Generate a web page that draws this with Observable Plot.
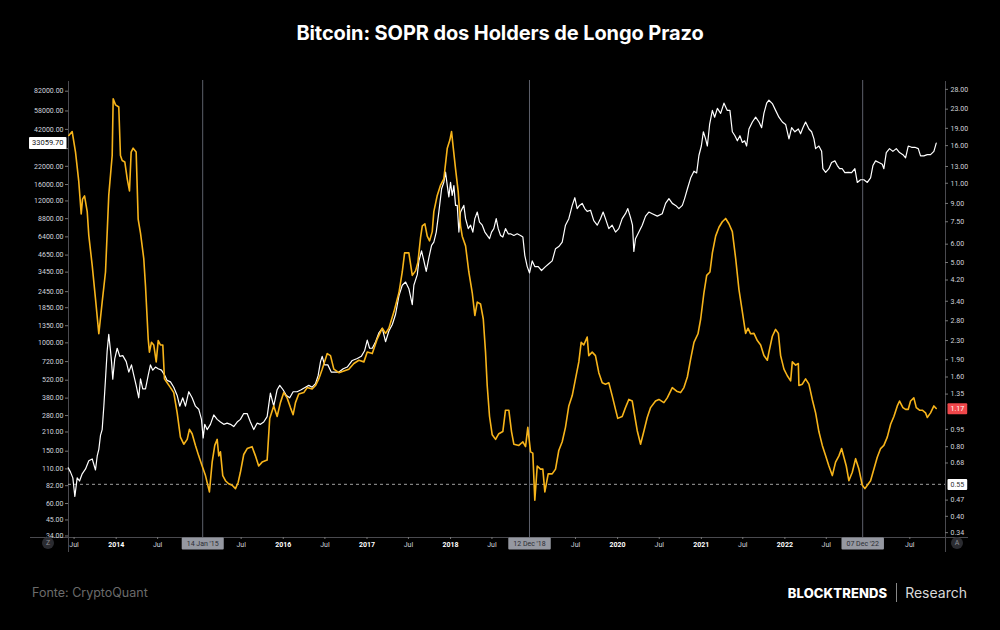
<!DOCTYPE html>
<html>
<head>
<meta charset="utf-8">
<script src="https://cdn.jsdelivr.net/npm/d3@7"></script>
<script src="https://cdn.jsdelivr.net/npm/@observablehq/plot@0.6"></script>
<style>
  html, body { margin: 0; padding: 0; background: #000; }
  #page { position: relative; width: 1000px; height: 630px; background: #000; overflow: hidden; font-family: Inter, "Noto Sans", sans-serif; }
  #title { position: absolute; top: 21px; left: 0; width: 1000px; text-align: center; color: #fff; font-weight: 700; font-size: 20px; letter-spacing: -0.1px; }
  #chart { position: absolute; left: 0; top: 66px; }
  #source { position: absolute; left: 32px; top: 585px; color: #6b6b6b; font-size: 12.5px; }
  #brand { position: absolute; right: 33px; top: 583px; color: #fff; display: flex; align-items: center; }
  #brand b { font-weight: 800; font-size: 13px; letter-spacing: 0.1px; }
  #brand .sep { display: inline-block; width: 1px; height: 19px; background: #888; margin: 0 8px 0 9px; }
  #brand span.r { font-size: 14px; color: #d8d8d8; font-weight: 400; }
  .pill { position: absolute; width: 12px; height: 12px; border-radius: 6px; background: #2a2b30; color: #8a8c93; font: 7px Roboto, sans-serif; text-align: center; line-height: 12px; }
</style>
</head>
<body>
<div id="page">
  <div id="title">Bitcoin: SOPR dos Holders de Longo Prazo</div>
  <div id="chart"></div>
  <div class="pill" style="left:42px; top:537px;">Z</div>
  <div class="pill" style="left:951px; top:537px;">A</div>
  <div id="source">Fonte: CryptoQuant</div>
  <div id="brand"><b>BLOCKTRENDS</b><span class="sep"></span><span class="r">Research</span></div>
</div>
<script>
// Long-term holder SOPR (right scale) – [decimal year, ratio]
const soprPoints = [
  [2013.433,17.7],[2013.473,18.4],[2013.513,15.0],[2013.552,11.2],[2013.581,8.1],[2013.597,9.4],[2013.621,9.7],[2013.653,8.3],
  [2013.672,6.55],[2013.713,4.85],[2013.752,3.49],[2013.792,2.46],[2013.832,3.37],[2013.872,4.55],[2013.911,9.75],[2013.952,14.5],
  [2013.964,25.5],[2013.992,24],[2014.031,23.5],[2014.051,14.5],[2014.072,13.8],[2014.103,13.6],[2014.132,11.5],[2014.159,10.2],
  [2014.179,15.0],[2014.203,15.6],[2014.239,15.0],[2014.263,7.7],[2014.291,6.7],[2014.330,5.2],[2014.351,3.95],[2014.383,2.34],
  [2014.398,2.05],[2014.422,2.26],[2014.450,2.2],[2014.479,1.86],[2014.503,2.3],[2014.530,2.2],[2014.558,2.2],[2014.578,1.57],
  [2014.610,1.51],[2014.650,1.44],[2014.689,1.37],[2014.730,1.12],[2014.769,0.88],[2014.809,0.82],[2014.850,0.86],[2014.877,0.95],
  [2014.909,0.91],[2014.949,0.81],[2014.988,0.73],[2015.029,0.66],[2015.069,0.60],[2015.116,0.51],[2015.149,0.686],[2015.180,0.81],
  [2015.209,0.86],[2015.228,0.73],[2015.248,0.76],[2015.276,0.60],[2015.308,0.57],[2015.347,0.553],[2015.388,0.545],[2015.428,0.527],
  [2015.460,0.56],[2015.487,0.62],[2015.527,0.74],[2015.568,0.785],[2015.627,0.80],[2015.667,0.73],[2015.706,0.66],[2015.747,0.686],
  [2015.807,0.70],[2015.838,1.06],[2015.886,1.2],[2015.927,1.08],[2015.966,1.24],[2016.006,1.37],[2016.046,1.3],[2016.086,1.18],
  [2016.118,1.1],[2016.146,1.24],[2016.185,1.35],[2016.245,1.37],[2016.286,1.44],[2016.345,1.42],[2016.385,1.47],[2016.424,1.57],
  [2016.465,1.73],[2016.525,2.02],[2016.564,1.98],[2016.604,1.73],[2016.664,1.67],[2016.723,1.70],[2016.783,1.73],[2016.843,1.83],
  [2016.903,1.89],[2016.963,1.86],[2017.003,2.05],[2017.063,2.02],[2017.123,2.34],[2017.183,2.6],[2017.222,2.47],[2017.262,2.6],
  [2017.322,3.06],[2017.382,3.7],[2017.422,4.55],[2017.450,5.5],[2017.501,5.5],[2017.542,4.4],[2017.581,4.6],[2017.609,5.0],
  [2017.641,6.4],[2017.662,7.2],[2017.693,7.35],[2017.721,6.5],[2017.749,6.2],[2017.781,6.8],[2017.800,8.3],[2017.841,9.75],
  [2017.881,10.8],[2017.920,11.5],[2017.961,15.6],[2017.992,16.9],[2018.012,18.4],[2018.033,15.6],[2018.060,12.7],[2018.092,10.1],
  [2018.120,7.2],[2018.140,6.5],[2018.180,5.9],[2018.219,4.55],[2018.260,3.7],[2018.291,2.95],[2018.320,3.37],[2018.359,3.31],
  [2018.392,2.85],[2018.419,2.05],[2018.439,1.47],[2018.467,1.08],[2018.499,0.9],[2018.539,0.86],[2018.578,0.91],[2018.626,0.93],
  [2018.658,1.15],[2018.698,1.15],[2018.730,0.93],[2018.758,0.82],[2018.818,0.81],[2018.866,0.84],[2018.898,0.80],[2018.925,0.97],
  [2018.958,0.76],[2018.985,0.75],[2019.009,0.47],[2019.038,0.66],[2019.077,0.64],[2019.105,0.64],[2019.129,0.51],[2019.169,0.61],
  [2019.217,0.61],[2019.257,0.64],[2019.296,0.77],[2019.337,0.84],[2019.376,0.97],[2019.416,1.2],[2019.457,1.33],[2019.496,1.57],
  [2019.536,1.86],[2019.564,2.26],[2019.595,2.2],[2019.636,2.38],[2019.655,1.98],[2019.696,2.05],[2019.735,1.98],[2019.775,1.67],
  [2019.816,1.51],[2019.855,1.49],[2019.895,1.51],[2019.935,1.33],[2019.975,1.16],[2020.002,1.06],[2020.055,1.08],[2020.094,1.18],
  [2020.134,1.28],[2020.175,1.26],[2020.206,1.08],[2020.234,0.94],[2020.274,0.82],[2020.313,0.93],[2020.354,1.07],[2020.394,1.18],
  [2020.453,1.26],[2020.493,1.28],[2020.553,1.24],[2020.593,1.3],[2020.653,1.44],[2020.705,1.39],[2020.752,1.37],[2020.792,1.44],
  [2020.833,1.6],[2020.872,1.91],[2020.912,2.26],[2020.960,2.46],[2020.992,2.85],[2021.031,3.7],[2021.064,4.4],[2021.103,4.55],
  [2021.132,5.5],[2021.171,6.5],[2021.211,7.1],[2021.251,7.5],[2021.291,7.75],[2021.330,7.35],[2021.371,6.8],[2021.411,5.2],
  [2021.450,3.83],[2021.491,3.06],[2021.530,2.47],[2021.558,2.6],[2021.590,2.46],[2021.630,2.47],[2021.670,2.3],[2021.710,2.2],
  [2021.749,1.98],[2021.790,1.89],[2021.809,2.05],[2021.850,2.4],[2021.889,2.57],[2021.922,2.47],[2021.949,1.98],[2021.989,1.73],
  [2022.029,1.62],[2022.069,1.54],[2022.089,1.86],[2022.129,1.8],[2022.161,1.83],[2022.168,1.47],[2022.209,1.49],[2022.248,1.57],
  [2022.288,1.49],[2022.328,1.28],[2022.368,1.12],[2022.407,0.93],[2022.448,0.81],[2022.488,0.73],[2022.527,0.66],[2022.568,0.60],
  [2022.607,0.686],[2022.647,0.73],[2022.679,0.785],[2022.707,0.72],[2022.735,0.66],[2022.766,0.57],[2022.807,0.62],[2022.847,0.71],
  [2022.886,0.64],[2022.927,0.545],[2022.958,0.527],[2022.987,0.545],[2023.026,0.57],[2023.066,0.64],[2023.106,0.72],[2023.146,0.785],
  [2023.185,0.81],[2023.226,0.88],[2023.266,1.0],[2023.305,1.08],[2023.346,1.2],[2023.373,1.26],[2023.413,1.18],[2023.445,1.16],
  [2023.477,1.16],[2023.505,1.26],[2023.544,1.3],[2023.573,1.18],[2023.612,1.15],[2023.645,1.15],[2023.684,1.12],[2023.705,1.07],
  [2023.744,1.12],[2023.784,1.2],[2023.812,1.17]
];

// Bitcoin price in USD (left scale) – [decimal year, price]
const pricePoints = [
  [2013.426,112],[2013.453,104],[2013.481,94],[2013.505,68],[2013.533,94],[2013.561,89],[2013.593,101],[2013.633,110],
  [2013.672,127],[2013.713,131],[2013.752,108],[2013.773,138],[2013.792,155],[2013.812,198],[2013.832,219],[2013.852,330],
  [2013.872,532],[2013.892,870],[2013.911,1160],[2013.932,870],[2013.944,720],[2013.959,530],[2013.983,760],[2014.012,910],
  [2014.043,790],[2014.079,800],[2014.120,720],[2014.151,600],[2014.183,680],[2014.211,565],[2014.239,475],[2014.270,382],
  [2014.291,532],[2014.318,447],[2014.351,447],[2014.383,565],[2014.410,680],[2014.438,620],[2014.470,655],[2014.503,635],
  [2014.542,620],[2014.582,565],[2014.610,518],[2014.650,505],[2014.689,460],[2014.730,398],[2014.761,330],[2014.797,382],
  [2014.829,330],[2014.869,425],[2014.909,382],[2014.949,330],[2014.988,313],[2015.021,262],[2015.041,189],[2015.060,240],
  [2015.089,219],[2015.128,240],[2015.168,283],[2015.209,262],[2015.248,250],[2015.288,240],[2015.328,245],[2015.368,240],
  [2015.407,231],[2015.448,250],[2015.487,262],[2015.527,290],[2015.568,290],[2015.607,250],[2015.647,219],[2015.687,245],
  [2015.727,240],[2015.766,250],[2015.807,275],[2015.846,415],[2015.886,330],[2015.927,440],[2015.958,475],[2015.998,440],
  [2016.038,398],[2016.077,382],[2016.118,425],[2016.166,425],[2016.214,440],[2016.265,460],[2016.305,475],[2016.345,460],
  [2016.385,490],[2016.417,565],[2016.445,720],[2016.465,790],[2016.493,680],[2016.532,680],[2016.573,600],[2016.612,600],
  [2016.664,600],[2016.716,635],[2016.764,655],[2016.824,735],[2016.884,760],[2016.932,790],[2016.971,870],[2017.003,1050],
  [2017.031,910],[2017.063,910],[2017.103,1020],[2017.142,1190],[2017.183,1290],[2017.222,1020],[2017.262,1230],[2017.303,1380],
  [2017.342,1650],[2017.382,2280],[2017.422,2740],[2017.462,2900],[2017.501,2580],[2017.542,1950],[2017.561,2740],[2017.602,3300],
  [2017.621,4200],[2017.653,5000],[2017.681,4200],[2017.709,3500],[2017.741,4450],[2017.773,5520],[2017.800,5840],[2017.829,6960],
  [2017.860,9880],[2017.893,14840],[2017.920,16660],[2017.940,19900],[2017.961,15700],[2017.980,12900],[2018.000,16600],[2018.020,13200],
  [2018.040,15700],[2018.060,11100],[2018.080,11100],[2018.100,6960],[2018.120,9880],[2018.140,10500],[2018.159,11100],[2018.180,8800],
  [2018.212,7390],[2018.240,7850],[2018.267,6960],[2018.291,8800],[2018.320,9880],[2018.347,8280],[2018.380,7850],[2018.411,6960],
  [2018.439,6560],[2018.467,6200],[2018.491,6960],[2018.518,7390],[2018.547,8800],[2018.571,7390],[2018.599,6560],[2018.626,6380],
  [2018.658,7390],[2018.691,6750],[2018.718,6750],[2018.758,6560],[2018.798,6750],[2018.838,6560],[2018.866,6380],[2018.889,4630],
  [2018.918,3800],[2018.946,3400],[2018.978,4200],[2019.009,3800],[2019.050,3800],[2019.089,3550],[2019.137,3800],[2019.177,4000],
  [2019.217,4200],[2019.257,5200],[2019.296,5400],[2019.337,5840],[2019.376,7850],[2019.416,8800],[2019.457,11100],[2019.488,12700],
  [2019.516,10500],[2019.544,11100],[2019.576,11500],[2019.607,10500],[2019.636,10000],[2019.676,10200],[2019.715,8500],[2019.756,7850],
  [2019.795,8800],[2019.827,9880],[2019.855,8800],[2019.895,7390],[2019.935,7850],[2019.975,6960],[2020.014,7390],[2020.055,8800],
  [2020.094,9600],[2020.122,10500],[2020.154,9000],[2020.178,7850],[2020.194,4950],[2020.214,6200],[2020.254,6960],[2020.294,7850],
  [2020.334,9200],[2020.373,9880],[2020.414,9600],[2020.474,9200],[2020.533,9600],[2020.573,11500],[2020.613,12500],[2020.653,11500],
  [2020.693,11100],[2020.732,10500],[2020.773,11100],[2020.800,12500],[2020.833,14800],[2020.872,17900],[2020.912,20200],[2020.944,19600],
  [2020.971,26600],[2021.000,31400],[2021.024,40300],[2021.051,35600],[2021.072,31400],[2021.099,45800],[2021.132,58600],[2021.159,52000],
  [2021.192,60700],[2021.231,55600],[2021.271,66500],[2021.311,58600],[2021.342,58600],[2021.371,40300],[2021.402,37600],[2021.431,34400],
  [2021.462,37600],[2021.491,33400],[2021.518,34400],[2021.542,31400],[2021.570,42300],[2021.611,47800],[2021.650,52000],[2021.690,47800],
  [2021.722,43300],[2021.749,55600],[2021.782,66500],[2021.809,70000],[2021.850,66000],[2021.889,58600],[2021.929,52000],[2021.970,47800],
  [2022.009,45800],[2022.049,35600],[2022.081,43300],[2022.120,40300],[2022.161,42300],[2022.188,38900],[2022.216,43300],[2022.248,47800],
  [2022.288,42300],[2022.320,40300],[2022.348,35600],[2022.368,30000],[2022.407,31400],[2022.440,28600],[2022.455,21100],[2022.488,19800],
  [2022.527,21100],[2022.559,23500],[2022.599,24200],[2022.628,22300],[2022.655,21100],[2022.687,21100],[2022.718,19700],[2022.759,19800],
  [2022.799,19700],[2022.838,21100],[2022.867,16600],[2022.906,17400],[2022.946,17400],[2022.987,16600],[2023.026,18000],[2023.054,22300],
  [2023.086,24200],[2023.126,23500],[2023.166,22800],[2023.185,21100],[2023.214,28000],[2023.253,30000],[2023.293,28600],[2023.334,30000],
  [2023.373,28000],[2023.413,27000],[2023.445,25500],[2023.477,31400],[2023.517,30700],[2023.556,30700],[2023.597,30000],[2023.624,26400],
  [2023.664,26400],[2023.705,27000],[2023.744,27000],[2023.784,28600],[2023.812,33059.70]
];

// Axis tick values
const priceTicks = [34,45,60,82,110,150,210,280,380,520,720,1000,1350,1850,2450,3450,4650,6400,8800,12000,16000,22000,30000,42000,58000,82000];
const soprTicks = [0.34,0.40,0.47,0.68,0.80,0.95,1.35,1.60,1.90,2.30,2.80,3.40,4.20,5.00,6.00,7.50,9.00,11.00,13.00,16.00,19.00,23.00,28.00];
const yearTicks = ["2014-01-01","2016-01-01","2017-01-01","2018-01-01","2020-01-01","2021-01-01","2022-01-01"];
const julyTicks = ["2013-07-01","2014-07-01","2015-07-01","2016-07-01","2017-07-01","2018-07-01","2019-07-01","2020-07-01","2021-07-01","2022-07-01","2023-07-01"];

// Marked cycle bottoms
const markerDates = ["2015-01-14","2018-12-12","2022-12-07"];
const markerLabels = ["14 Jan '15","12 Dec '18","07 Dec '22"];

// SOPR reference level and latest readings
const soprLevel = 0.55;
const lastSopr = 1.17;
const lastPrice = 33059.70;

// Visible ranges of the two log scales (they share the same vertical extent)
const priceDomain = [33.1, 90600];
const soprDomain = [0.324, 29.1];
const timeDomain = [2013.429, 2023.923];

function yearToDate(y) {
  const Y = Math.floor(y);
  const a = Date.UTC(Y, 0, 1), b = Date.UTC(Y + 1, 0, 1);
  return new Date(a + (y - Y) * (b - a));
}
const lp0 = Math.log10(priceDomain[0]), lp1 = Math.log10(priceDomain[1]);
const ls0 = Math.log10(soprDomain[0]), ls1 = Math.log10(soprDomain[1]);
// map a SOPR ratio onto the price axis so both series share one y scale
const soprToY = s => Math.pow(10, lp0 + (Math.log10(s) - ls0) * (lp1 - lp0) / (ls1 - ls0));

const price = pricePoints.map(([t, v]) => ({date: yearToDate(t), value: v}));
const sopr = soprPoints.map(([t, v]) => ({date: yearToDate(t), value: v, y: soprToY(v)}));
const markers = markerDates.map((d, i) => ({date: new Date(d + "T00:00:00Z"), label: markerLabels[i]}));
const xStart = yearToDate(timeDomain[0]);
const xEnd = yearToDate(timeDomain[1]);

const gridColor = "#4a4a4f";
const tickColor = "#777";
const textColor = "#d1d4dc";
// a tick label sitting under the price tag is not drawn
const clearOfTag = d => Math.abs(Math.log10(d / lastPrice)) > 0.06;

const chart = Plot.plot({
  width: 1000,
  height: 504,
  marginLeft: 68,
  marginRight: 55,
  marginTop: 19,
  marginBottom: 33,
  style: {background: "transparent", color: textColor, fontFamily: "Roboto, 'Liberation Sans', sans-serif", fontSize: "7px"},
  x: {type: "utc", domain: [xStart, xEnd]},
  y: {type: "log", domain: priceDomain, axis: null},
  marks: [
    // frame lines
    Plot.ruleY([priceDomain[0]], {stroke: gridColor, strokeWidth: 1, insetLeft: -38, insetRight: -23}),
    Plot.ruleX([xStart, xEnd], {stroke: gridColor, strokeWidth: 1, insetBottom: -15, insetTop: -4}),
    // cycle-bottom markers
    Plot.ruleX(markers, {x: "date", stroke: "#5d606b", strokeWidth: 1, insetTop: -5}),
    // SOPR reference level
    Plot.ruleY([soprToY(soprLevel)], {stroke: "#c8c8c8", strokeWidth: 0.8, strokeDasharray: "3,3"}),
    // series
    Plot.line(price, {x: "date", y: "value", stroke: "#ffffff", strokeWidth: 1.2, curve: "linear"}),
    Plot.line(sopr, {x: "date", y: "y", stroke: "#f7b41a", strokeWidth: 1.6, curve: "linear"}),
    // left (price) axis
    Plot.ruleY(priceTicks, {y: d => d, x1: xStart, x2: xStart, insetLeft: -3, stroke: tickColor}),
    Plot.text(priceTicks, {filter: clearOfTag, y: d => d, text: d => d.toFixed(2), frameAnchor: "left", textAnchor: "end", dx: -5, fill: textColor, fontSize: 7}),
    // right (SOPR) axis
    Plot.ruleY(soprTicks, {y: soprToY, x1: xEnd, x2: xEnd, insetRight: -3, stroke: tickColor}),
    Plot.text(soprTicks, {y: soprToY, text: d => d.toFixed(2), frameAnchor: "right", textAnchor: "start", dx: 5, fill: textColor, fontSize: 7}),
    // time axis
    Plot.axisX({ticks: yearTicks.map(d => new Date(d + "T00:00:00Z")), tickFormat: d3.utcFormat("%Y"), tickSize: 2, tickPadding: 3, stroke: tickColor, fill: "#ffffff", fontWeight: "bold", fontSize: 7, label: null}),
    Plot.axisX({ticks: julyTicks.map(d => new Date(d + "T00:00:00Z")), tickFormat: () => "Jul", tickSize: 2, tickPadding: 3, stroke: tickColor, fill: textColor, fontSize: 7, label: null}),
    // value tags
    Plot.text(markers, {x: "date", text: "label", frameAnchor: "bottom", dy: 8, fill: "#2b2d33", fontSize: 7, className: "tag-date"}),
    Plot.text([lastPrice], {y: d => d, text: d => d.toFixed(2), frameAnchor: "left", textAnchor: "end", dx: -5, fill: "#111", fontSize: 7.5, className: "tag-white"}),
    Plot.text([soprLevel], {y: soprToY, text: d => d.toFixed(2), frameAnchor: "right", textAnchor: "start", dx: 5, fill: "#333", fontSize: 7, className: "tag-white"}),
    Plot.text([lastSopr], {y: soprToY, text: d => d.toFixed(2), frameAnchor: "right", textAnchor: "start", dx: 5, fill: "#ffffff", fontSize: 7, className: "tag-red"})
  ]
});

document.getElementById("chart").append(chart);

// draw a filled tag behind each labelled value
const svgNS = "http://www.w3.org/2000/svg";
function tag(cls, fill, padX, padY) {
  chart.querySelectorAll(`g.${cls} text`).forEach(t => {
    const b = t.getBBox();
    const r = document.createElementNS(svgNS, "rect");
    r.setAttribute("x", b.x - padX);
    r.setAttribute("y", b.y - padY);
    r.setAttribute("width", b.width + 2 * padX);
    r.setAttribute("height", b.height + 2 * padY);
    r.setAttribute("fill", fill);
    r.setAttribute("rx", 1);
    if (t.getAttribute("transform")) r.setAttribute("transform", t.getAttribute("transform"));
    t.parentNode.insertBefore(r, t);
  });
}
tag("tag-date", "#9598a1", 5, 2);
tag("tag-white", "#ffffff", 3, 1.5);
tag("tag-red", "#f0474b", 3, 1.5);
</script>
</body>
</html>
